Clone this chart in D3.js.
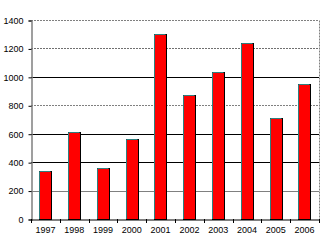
<!DOCTYPE html>
<meta charset="utf-8">
<style>
    body { margin: 0; background: #fff; }
    text { font-family: "Liberation Sans", Arial, sans-serif; font-size: 9px; fill: #000; }
</style>
<svg width="325" height="245"></svg>
<script src="https://d3js.org/d3.v7.min.js"></script>
<script>
    // 数据
    var years = ["1997", "1998", "1999", "2000", "2001", "2002", "2003", "2004", "2005", "2006"];
    var values = [340, 610, 360, 565, 1305, 870, 1035, 1240, 710, 950];
    var yTicks = [0, 200, 400, 600, 800, 1000, 1200, 1400];

    var svg = d3.select("svg");
    var plotLeft = 31, plotRight = 319, plotTop = 20, plotBottom = 219;

    var x = d3.scaleBand().domain(years).range([plotLeft, plotRight]).paddingInner(0.57).paddingOuter(0.285);
    var y = d3.scaleLinear().domain([0, 1400]).range([plotBottom, plotTop]);

    // 网格线
    var gridStyle = { 1400: ["#808080", "2,1"], 1200: ["#707070", "2,1"], 1000: ["#000", null],
        800: ["#808080", "2,1"], 600: ["#000", null], 400: ["#000", null], 200: ["#808080", null] };
    svg.selectAll("line.grid")
        .data(yTicks.filter(function (d) { return d > 0; }))
        .enter().append("line")
        .attr("class", "grid")
        .attr("x1", plotLeft).attr("x2", plotRight)
        .attr("y1", function (d) { return Math.round(y(d)) + 0.5; })
        .attr("y2", function (d) { return Math.round(y(d)) + 0.5; })
        .attr("stroke", function (d) { return gridStyle[d][0]; })
        .attr("stroke-dasharray", function (d) { return gridStyle[d][1]; });

    // 右边框
    svg.append("line")
        .attr("x1", plotRight + 0.5).attr("x2", plotRight + 0.5)
        .attr("y1", Math.round(y(1400)) + 0.5).attr("y2", plotBottom + 0.5)
        .attr("stroke", "#808080").attr("stroke-dasharray", "2,1");

    // 柱子
    var bw = Math.round(x.bandwidth());
    var bars = svg.selectAll("g.bar")
        .data(values)
        .enter().append("g").attr("class", "bar");
    bars.append("rect")
        .attr("x", function (d, i) { return Math.round(x(years[i])) + 0.5; })
        .attr("y", function (d) { return Math.round(y(d)) + 0.5; })
        .attr("width", bw)
        .attr("height", function (d) { return plotBottom - Math.round(y(d)); })
        .attr("fill", "#ff0000")
        .attr("stroke", "#000");
    bars.append("path")
        .attr("d", function (d, i) {
            var x0 = Math.round(x(years[i])) + 0.5, y0 = Math.round(y(d)) + 0.5;
            return "M" + x0 + "," + plotBottom + "V" + y0 + "H" + (x0 + bw - 1);
        })
        .attr("fill", "none")
        .attr("stroke", "#2e7f7f");

    // y 轴
    var yAxis = d3.axisLeft(y).tickValues(yTicks).tickSize(3).tickPadding(5).tickFormat(d3.format("d"));
    var gy = svg.append("g").attr("transform", "translate(" + (plotLeft + 0.5) + ",0.5)").call(yAxis);
    gy.select(".domain").attr("stroke", "#808080").attr("stroke-width", 1.5);
    gy.selectAll(".tick line").attr("stroke", "#000");
    gy.selectAll("text").attr("font-size", 9).attr("font-family", "Liberation Sans, Arial, sans-serif");

    // x 轴
    var xAxis = d3.axisBottom(x).tickSize(0).tickPadding(7);
    var gx = svg.append("g").attr("transform", "translate(0," + (plotBottom + 0.5) + ")").call(xAxis);
    gx.select(".domain").attr("stroke", "#000");
    gx.selectAll("text").attr("font-size", 9).attr("font-family", "Liberation Sans, Arial, sans-serif");
    svg.selectAll("line.xtick")
        .data(d3.range(years.length + 1))
        .enter().append("line")
        .attr("class", "xtick")
        .attr("x1", function (i) { return Math.round(plotLeft + i * x.step()) + 0.5; })
        .attr("x2", function (i) { return Math.round(plotLeft + i * x.step()) + 0.5; })
        .attr("y1", plotBottom).attr("y2", plotBottom + 4)
        .attr("stroke", "#000");
</script>
